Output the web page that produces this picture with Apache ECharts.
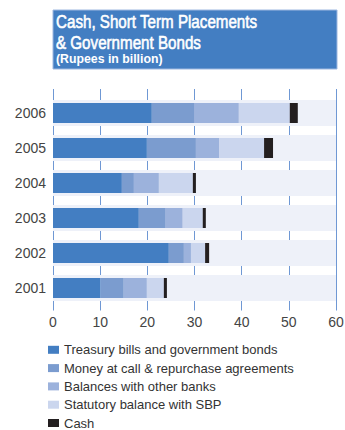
<!DOCTYPE html>
<html>
<head>
<meta charset="utf-8">
<script src="https://cdn.jsdelivr.net/npm/echarts@6/dist/echarts.min.js"></script>
<style>html,body{margin:0;padding:0;background:#fff;}#c{width:345px;height:430px;}</style>
</head>
<body>
<div id="c"></div>
<script>
var categories = ['2001', '2002', '2003', '2004', '2005', '2006'];
var treasury = [10.1, 24.55, 18.2, 14.6, 19.9, 20.95];
var moneyAtCall = [4.9, 3.2, 5.7, 2.55, 10.4, 9.1];
var balances = [4.9, 1.5, 3.6, 5.3, 4.9, 9.35];
var statutory = [3.6, 3.0, 4.25, 7.2, 9.55, 10.8];
var cash = [0.65, 0.85, 0.65, 0.65, 1.9, 1.7];
var axisMax = 60;
var bandValues = categories.map(function () { return axisMax; });
var seriesNames = ['Treasury bills and government bonds', 'Money at call & repurchase agreements', 'Balances with other banks', 'Statutory balance with SBP', 'Cash'];
var seriesData = [treasury, moneyAtCall, balances, statutory, cash];
var colors = ['#437ec2', '#7b9ccf', '#9cb2dc', '#cbd6ee', '#231f20'];

var chart = echarts.init(document.getElementById('c'), null, {renderer: 'svg'});
var font = '"Liberation Sans", Arial, sans-serif';

var series = [{
  type: 'bar', name: 'grid', xAxisIndex: 0, yAxisIndex: 0, data: [], silent: true
}, {
  type: 'bar', name: 'band', xAxisIndex: 1, yAxisIndex: 1,
  data: bandValues, barWidth: 26, silent: true,
  itemStyle: {color: '#eef1f9'}, z: 1
}];
seriesNames.forEach(function (n, i) {
  series.push({
    type: 'bar', name: n, stack: 'total', xAxisIndex: 1, yAxisIndex: 2,
    data: seriesData[i], barWidth: 20, itemStyle: {color: colors[i]}, z: 3
  });
});

var titleFont = '18.5px "Liberation Sans", Arial, sans-serif';
chart.setOption({
  animation: false,
  color: colors,
  graphic: [
    {type: 'rect', shape: {x: 53, y: 10, width: 284, height: 59},
     style: {fill: '#437ec2', stroke: '#9fb8e0', lineWidth: 1}},
    {type: 'text', x: 56, y: 21.9, scaleX: 0.82, style: {text: 'Cash, Short Term Placements', fill: '#fff',
      stroke: '#fff', lineWidth: 0.6, font: titleFont, verticalAlign: 'middle'}},
    {type: 'text', x: 56, y: 42.9, scaleX: 0.82, style: {text: '& Government Bonds', fill: '#fff',
      stroke: '#fff', lineWidth: 0.6, font: titleFont, verticalAlign: 'middle'}},
    {type: 'text', x: 56, y: 58.5, style: {text: '(Rupees in billion)', fill: '#fff',
      font: 'bold 12.3px "Liberation Sans", Arial, sans-serif', verticalAlign: 'middle'}}
  ],
  legend: {
    orient: 'vertical', left: 48, top: 343.3, height: 100, padding: 0,
    itemWidth: 11, itemHeight: 8, itemGap: 5.3, icon: 'rect',
    data: seriesNames,
    textStyle: {fontFamily: font, fontSize: 13, color: '#333'}
  },
  grid: [
    {left: 53, width: 283, top: 89, height: 221.5, outerBoundsMode: 'none', containLabel: false},
    {left: 53, width: 283, top: 95.5, height: 210, outerBoundsMode: 'none', containLabel: false}
  ],
  xAxis: [
    {type: 'value', gridIndex: 0, min: 0, max: axisMax, interval: 10,
     axisLine: {show: false}, axisTick: {show: false},
     axisLabel: {margin: 4, fontSize: 14, color: '#444', fontFamily: font},
     splitLine: {show: true, showMinLine: true, showMaxLine: true, lineStyle: {color: '#6f98d4', width: 1}}},
    {type: 'value', gridIndex: 1, min: 0, max: axisMax, show: false}
  ],
  yAxis: [
    {type: 'value', gridIndex: 0, min: 0, max: 1, show: true,
     axisLine: {show: false}, axisTick: {show: false}, axisLabel: {show: false}, splitLine: {show: false}},
    {type: 'category', gridIndex: 1, data: categories, show: false},
    {type: 'category', gridIndex: 1, data: categories, position: 'left',
     axisLine: {show: false}, axisTick: {show: false},
     axisLabel: {margin: 7, fontSize: 14, color: '#444', fontFamily: font}}
  ],
  series: series
});
</script>
</body>
</html>
